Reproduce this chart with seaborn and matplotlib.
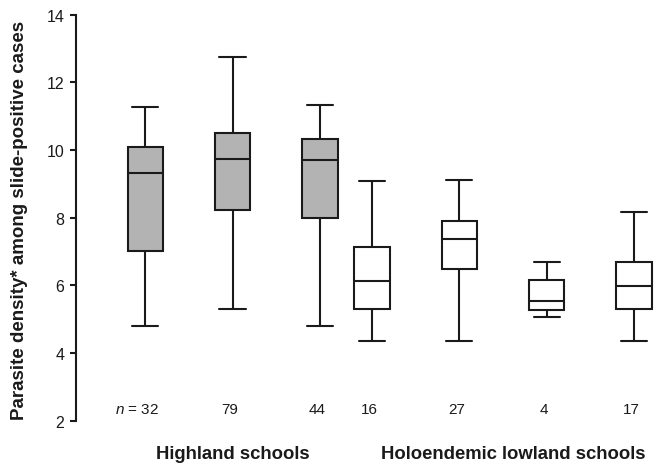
import pandas as pd
import seaborn as sns
import matplotlib.pyplot as plt
from matplotlib import transforms

# summary values (whisker ends, quartiles, median)
schools = ["H1", "H2", "H3", "L1", "L2", "L3", "L4"]
groups = ["Highland"] * 3 + ["Lowland"] * 4
low_whisker = [4.79, 5.29, 4.79, 4.36, 4.36, 5.06, 4.36]
q1 = [7.02, 8.24, 7.99, 5.30, 6.48, 5.27, 5.29]
median = [9.33, 9.74, 9.71, 6.13, 7.37, 5.54, 5.99]
q3 = [10.08, 10.50, 10.33, 7.13, 7.91, 6.16, 6.68]
high_whisker = [11.26, 12.75, 11.32, 9.08, 9.12, 6.68, 8.18]
n_labels = ["32", "79", "44", "16", "27", "4", "17"]
group_names = ["Highland schools", "Holoendemic lowland schools"]

# slot of each box along x (lowland group starts right after highland)
slot = [0, 1, 2, 2.6, 3.6, 4.6, 5.6]

sns.set_style("ticks")
plt.rcParams['font.family'] = ['Liberation Sans', 'DejaVu Sans']
plt.rcParams['mathtext.fontset'] = 'custom'
plt.rcParams['mathtext.it'] = 'Liberation Sans:italic'
plt.rcParams['mathtext.rm'] = 'Liberation Sans'

rows = []
for i in range(len(schools)):
    for v in [low_whisker[i], q1[i], median[i], q3[i], high_whisker[i]]:
        rows.append({'slot': slot[i], 'group': groups[i], 'value': v})
df = pd.DataFrame(rows)

fig = plt.figure(figsize=(6.59, 4.64), dpi=100)
ax = fig.add_axes([0.1146, 0.0912, 0.879, 0.875])

line_col = '#1a1a1a'
sns.boxplot(
    data=df, x='slot', y='value', hue='group', native_scale=True,
    palette={'Highland': '#b3b3b3', 'Lowland': 'white'},
    saturation=1, dodge=False, whis=(0, 100), width=0.68,
    linecolor=line_col, linewidth=1.5, legend=False, ax=ax,
    capwidths=0.3)

ax.set_xlim(-0.80, 5.84)
ax.set_ylim(2, 14)
ax.set_yticks(range(2, 15, 2))
ax.set_xticks([])
ax.set_xlabel('')
sns.despine(ax=ax, bottom=True)
ax.spines['left'].set_linewidth(1.5)
ax.spines['left'].set_color(line_col)
ax.tick_params(axis='y', length=4, width=1.5, pad=4, labelsize=11.5,
               colors=line_col)

ax.set_ylabel('Parasite density* among slide-positive cases',
              fontsize=13.5, fontweight='bold', color=line_col)
ax.yaxis.set_label_coords(-0.082, 0.495)

trans = transforms.blended_transform_factory(ax.transData, ax.transAxes)
for i, lab in enumerate(n_labels):
    if i == 0:
        ax.text(slot[i] - 0.09, 0.029, '$n$ = ' + lab, transform=trans,
                ha='center', va='center', fontsize=11, color=line_col)
    else:
        ax.text(slot[i] - 0.03, 0.029, lab, transform=trans,
                ha='center', va='center', fontsize=11, color=line_col)

ax.text(1.0, -0.082, group_names[0], transform=trans, ha='center',
        va='center', fontsize=13.3, fontweight='bold', color=line_col)
ax.text(4.22, -0.082, group_names[1], transform=trans, ha='center',
        va='center', fontsize=13.3, fontweight='bold', color=line_col)

fig.savefig('out.png', dpi=100)
